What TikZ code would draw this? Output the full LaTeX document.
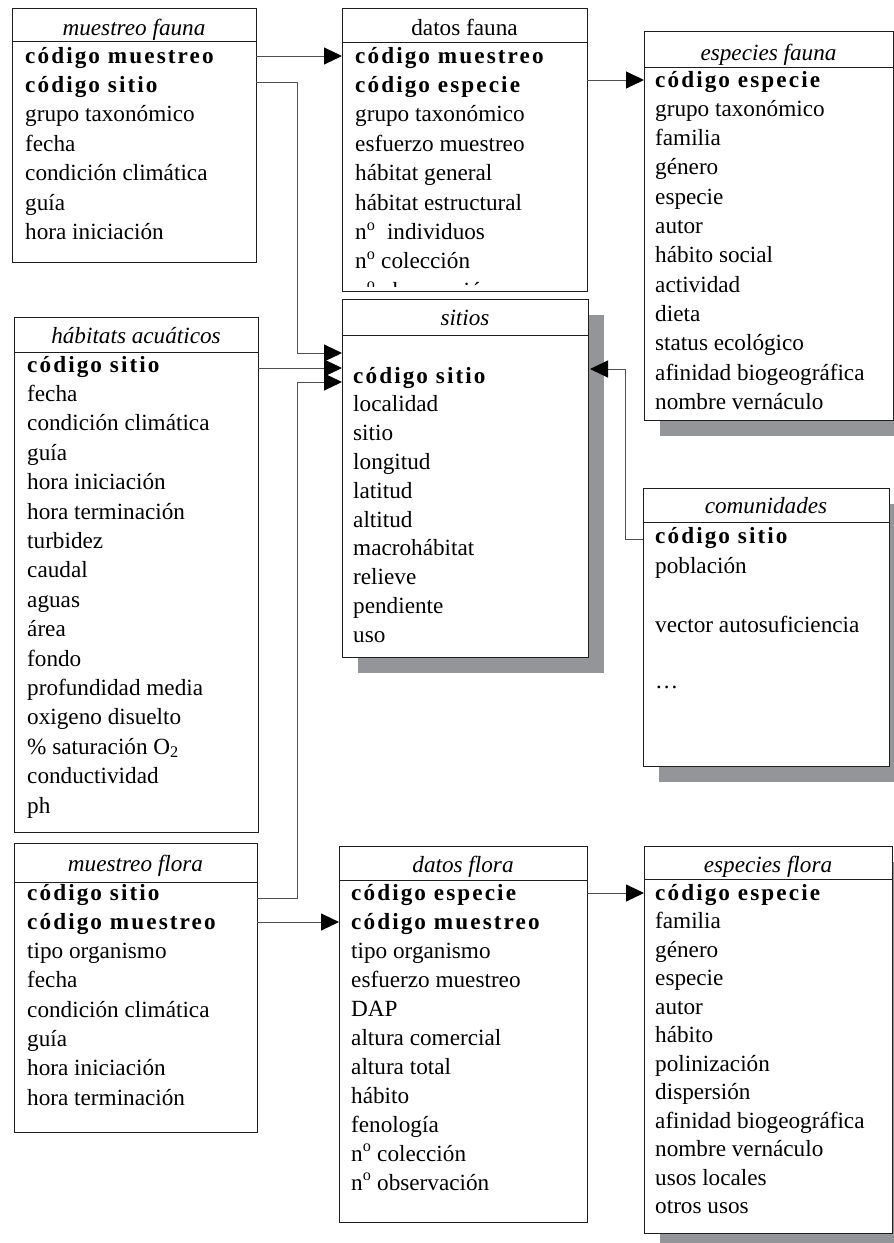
\documentclass[tikz,border=0pt]{standalone}
\usepackage{fontspec}
\setmainfont{Liberation Serif}
\newfontfamily\kbfont[LetterSpace=9]{Liberation Serif}
\usetikzlibrary{arrows.meta,calc,backgrounds}
\newcommand\kb[1]{{\kbfont\bfseries #1}}
\definecolor{shad}{HTML}{939598}
\definecolor{lin}{HTML}{1E1E1E}
\definecolor{con}{HTML}{505050}
\tikzset{
  tbl/.style={draw=lin, line width=1pt, fill=white, inner sep=0pt, outer sep=0pt, anchor=north west},
  sep/.style={draw=lin, line width=1pt},
  txt/.style={inner sep=0pt, font=\fontsize{23.2pt}{29pt}\selectfont},
  ttl/.style={txt, anchor=base},
  row/.style={txt, anchor=base west},
  conn/.style={draw=con, line width=1pt},
  arr/.style={-{Triangle[length=18pt,width=17pt,color=black]}},
  shadowbox/.style={fill=shad}
}
\newcommand\tabla[8]{%
  \node[tbl, minimum width=#4pt, minimum height=#5pt] (#1) at (#2,#3) {};
  \node[ttl] (#1-t) at ($(#1.north)+(0,#7)$) {#6};
  \draw[sep] ($(#1.north west)+(0,#8)$) -- ($(#1.north east)+(0,#8)$);
}
\newcommand\filas[5]{%
  \foreach \t [count=\i] in {#5} {\node[row] (#1-\i) at (#2,{#3+(\i-1)*#4}) {\t};}
}
\newcommand\sombra[1]{%
  \begin{scope}[on background layer]
    \fill[shadowbox] ($(#1.north west)+(16,16)$) rectangle ($(#1.south east)+(16,16)$);
  \end{scope}
}
\begin{document}
\begin{tikzpicture}[x=1pt,y=-1pt]
\useasboundingbox (0,0) rectangle (894,1243);
\clip (0,0) rectangle (894,1243);

% muestreo fauna
\tabla{mf}{12}{8}{244}{254}{\itshape muestreo fauna}{27}{33}
\filas{mf}{25}{63}{29.4}{\kb{código muestreo},\kb{código sitio},grupo taxonómico,fecha,condición climática,guía,hora iniciación}

% datos fauna
\tabla{df}{342}{8}{245}{283}{datos fauna}{27}{34}
\begin{scope}
\clip (342,8) rectangle (587,286);
\filas{df}{355}{63}{29.4}{\kb{código muestreo},\kb{código especie},grupo taxonómico,esfuerzo muestreo,hábitat general,hábitat estructural,n\textsuperscript{o}\ \ individuos,n\textsuperscript{o} colección,n\textsuperscript{o} observación}
\end{scope}

% especies fauna
\tabla{ef}{644}{31}{249}{389}{\itshape especies fauna}{29}{36}
\sombra{ef}
\filas{ef}{655}{87}{29.3}{\kb{código especie},grupo taxonómico,familia,género,especie,autor,hábito social,actividad,dieta,status ecológico,afinidad biogeográfica,nombre vernáculo}

% sitios
\tabla{si}{342}{299}{246}{358}{\itshape sitios}{26}{36}
\sombra{si}
\filas{si}{353}{383}{28.8}{\kb{código sitio},localidad,sitio,longitud,latitud,altitud,macrohábitat,relieve,pendiente,uso}

% habitats acuaticos
\tabla{ha}{14}{317}{244}{515}{\itshape hábitats acuáticos}{26}{35}
\filas{ha}{27}{372}{29.4}{\kb{código sitio},fecha,condición climática,guía,hora iniciación,hora terminación,turbidez,caudal,aguas,área,fondo,profundidad media,oxigeno disuelto,\% saturación O\textsubscript{2},conductividad,ph}

% comunidades
\tabla{co}{643}{488}{246}{278}{\itshape comunidades}{25}{34}
\sombra{co}
\node[row] (co-1) at (655,543) {\kb{código sitio}};
\node[row] (co-2) at (655,573) {población};
\node[row] (co-3) at (655,632) {vector autosuficiencia};
\node[row] (co-4) at (655,688) {…};

% muestreo flora
\tabla{mfl}{14}{843}{243}{289}{\itshape muestreo flora}{28}{39}
\filas{mfl}{27}{900}{29.3}{\kb{código sitio},\kb{código muestreo},tipo organismo,fecha,condición climática,guía,hora iniciación,hora terminación}

% datos flora
\tabla{dfl}{339}{846}{248}{376}{\itshape datos flora}{26}{34}
\filas{dfl}{351}{900}{29}{\kb{código especie},\kb{código muestreo},tipo organismo,esfuerzo muestreo,DAP,altura comercial,altura total,hábito,fenología,n\textsuperscript{o} colección,n\textsuperscript{o} observación}

% especies flora
\tabla{efl}{644}{846}{248}{387}{\itshape especies flora}{26}{33}
\sombra{efl}
\filas{efl}{655}{900}{28.5}{\kb{código especie},familia,género,especie,autor,hábito,polinización,dispersión,afinidad biogeográfica,nombre vernáculo,usos locales,otros usos}

% connectors
\draw[conn,arr] (mf.east |- 0,56) -- (df.west |- 0,56);
\draw[conn,arr] (mf.east |- 0,82) -| (297,353) -- (si.west |- 0,353);
\draw[conn,arr] (ha.east |- 0,368) -- (si.west |- 0,368);
\draw[conn,arr] (mfl.east |- 0,898) -| (297,382) -- (si.west |- 0,382);
\draw[conn,arr] (co.west |- 0,539) -| (625,369) -- ($(si.east |- 0,369)+(2,0)$);
\draw[conn,arr] (df.east |- 0,80) -- (ef.west |- 0,80);
\draw[conn,arr] (mfl.east |- 0,922) -- (dfl.west |- 0,922);
\draw[conn,arr] (dfl.east |- 0,893) -- (efl.west |- 0,893);
\end{tikzpicture}
\end{document}
